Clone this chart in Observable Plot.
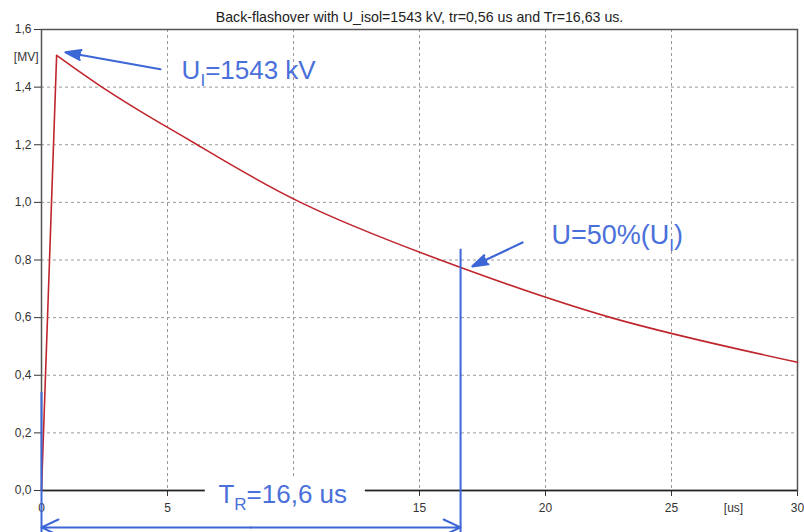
<!DOCTYPE html>
<html>
<head>
<meta charset="utf-8">
<script src="https://cdn.jsdelivr.net/npm/d3@7"></script>
<script src="https://cdn.jsdelivr.net/npm/@observablehq/plot@0.6"></script>
<style>
  html, body { margin: 0; padding: 0; background: #fff; }
  svg { display: block; }
</style>
</head>
<body>
<div id="chart"></div>
<script>
// Time (us) and voltage (MV) (peak and gridline crossings)
const times = [0, 0.6, 2.4, 4.46, 6.18, 10.28, 15.83, 22.6, 30];
const volts = [0, 1.51, 1.4, 1.288, 1.2, 1.0, 0.8, 0.6, 0.445];
const xTicks = [0, 5, 15, 20, 25, 30];
const yTicks = [0, 0.2, 0.4, 0.6, 0.8, 1.0, 1.2, 1.4, 1.6];
const xGrid = [5, 10, 15, 20, 25];
const yGrid = [0.2, 0.4, 0.6, 0.8, 1.0, 1.2, 1.4];
const title = "Back-flashover with U_isol=1543 kV, tr=0,56 us and Tr=16,63 us.";
const peakLabel = "U{I}=1543 kV";
const halfLabel = "U=50%(U{I})";
const trLabel = "T{R}=16,6 us";
const trValue = 16.63;

const curve = times.map((t, i) => ({t, v: volts[i]}));
const rise = curve.slice(0, 2);
const decay = curve.slice(1);
const blue = "#3d66d6";
const textBlue = "#4a70da";

const chart = Plot.plot({
  width: 804,
  height: 532,
  marginLeft: 41,
  marginRight: 7,
  marginTop: 29,
  marginBottom: 42,
  style: {fontFamily: "'Liberation Sans', Arial, sans-serif", fontSize: "12px", color: "#333", background: "#fff"},
  x: {domain: [0, 30], ticks: xTicks, tickSize: 6, tickPadding: 7, tickFormat: d => String(d), label: null},
  y: {domain: [0, 1.6], ticks: yTicks, tickSize: 7, tickPadding: 3, tickFormat: d => d.toFixed(1).replace(".", ","), label: null},
  marks: [
    Plot.ruleX(xGrid, {stroke: "#9a9a9a", strokeDasharray: "3,3", strokeWidth: 1}),
    Plot.ruleY(yGrid, {stroke: "#9a9a9a", strokeDasharray: "3,3", strokeWidth: 1}),
    Plot.frame({stroke: "#555", strokeWidth: 1.5}),
    Plot.ruleY([0], {stroke: "#222", strokeWidth: 1.5}),
    Plot.line(rise, {x: "t", y: "v", stroke: "#c0262d", strokeWidth: 1.6}),
    Plot.line(decay, {x: "t", y: "v", stroke: "#c0262d", strokeWidth: 1.6, curve: "natural"}),
    // blue markers
    Plot.ruleX([{x: 0, y1: -0.146, y2: 0.34}, {x: trValue, y1: -0.146, y2: 0.837}], {x: "x", y1: "y1", y2: "y2", stroke: blue, strokeWidth: 2}),
    Plot.arrow([{x1: 8.3, x2: 0, y: -0.128}, {x1: 8.3, x2: trValue, y: -0.128}], {x1: "x1", x2: "x2", y1: "y", y2: "y", stroke: blue, strokeWidth: 2, headLength: 14, headAngle: 50}),
    Plot.arrow([{x1: 4.72, y1: 1.462, x2: 0.95, y2: 1.521}, {x1: 19.09, y1: 0.861, x2: 17.1, y2: 0.778}], {x1: "x1", y1: "y1", x2: "x2", y2: "y2", stroke: blue, fill: blue, strokeWidth: 2.2, headLength: 11, headAngle: 36}),
    // white box behind T_R label
    Plot.rect([{x1: 6.5, x2: 12.85, y1: -0.05, y2: 0.045}], {x1: "x1", x2: "x2", y1: "y1", y2: "y2", fill: "white"}),
    // annotations
    Plot.text([{x: 5.56, y: 1.458, s: peakLabel}, {x: 7.02, y: -0.014, s: trLabel}], {x: "x", y: "y", text: "s", textAnchor: "start", lineAnchor: "middle", fill: textBlue, fontSize: 26}),
    Plot.text([{x: 20.24, y: 0.884, s: halfLabel}], {x: "x", y: "y", text: "s", textAnchor: "start", lineAnchor: "middle", fill: textBlue, fontSize: 27}),
    Plot.text(["[MV]"], {frameAnchor: "top-left", dx: -3, dy: 28, textAnchor: "end", lineAnchor: "middle", fill: "#333", fontSize: 12}),
    Plot.text(["[us]"], {x: 27.46, y: 0, dy: 18, lineAnchor: "middle", fill: "#333", fontSize: 12}),
    Plot.text([title], {frameAnchor: "top", dy: -12, lineAnchor: "middle", fill: "#222", fontSize: 14.2, letterSpacing: "0.35px"})
  ]
});

// Turn {x} markers into subscripts
d3.select(chart).selectAll("text").each(function() {
  const s = this.textContent;
  if (!s.includes("{")) return;
  const sel = d3.select(this);
  sel.selectAll("*").remove();
  sel.text(null);
  const parts = s.split(/(\{[^}]*\})/).filter(p => p.length);
  let shifted = false;
  for (const p of parts) {
    if (p.startsWith("{")) {
      sel.append("tspan").attr("dy", 7).attr("font-size", 17).text(p.slice(1, -1));
      shifted = true;
    } else {
      const ts = sel.append("tspan").text(p);
      if (shifted) { ts.attr("dy", -7); shifted = false; }
    }
  }
});

document.getElementById("chart").appendChild(chart);
</script>
</body>
</html>
